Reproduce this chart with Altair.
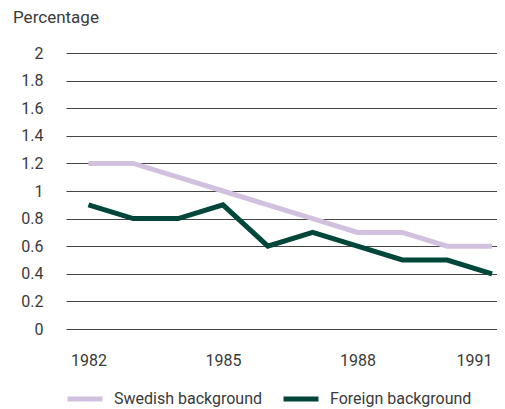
import altair as alt
import pandas as pd

years = [1982, 1983, 1984, 1985, 1986, 1987, 1988, 1989, 1990, 1991]
swedish = [1.2, 1.2, 1.1, 1.0, 0.9, 0.8, 0.7, 0.7, 0.6, 0.6]
foreign = [0.9, 0.8, 0.8, 0.9, 0.6, 0.7, 0.6, 0.5, 0.5, 0.4]
series_names = ["Swedish background", "Foreign background"]
series_colors = ["#d2c1de", "#00473a"]
y_ticks = [0, 0.2, 0.4, 0.6, 0.8, 1, 1.2, 1.4, 1.6, 1.8, 2]
x_ticks = [1982, 1985, 1988, 1991]

rows = []
for name, vals in zip(series_names, [swedish, foreign]):
    for yr, v in zip(years, vals):
        rows.append({"year": yr, "value": v, "series": name})
df = pd.DataFrame(rows)

FONT = "Roboto"
TXT = "#3a3a3a"

chart = (
    alt.Chart(df)
    .mark_line(strokeWidth=5, strokeJoin="miter")
    .encode(
        x=alt.X(
            "year:Q",
            scale=alt.Scale(domain=[1981.5, 1991.11], nice=False, zero=False),
            axis=alt.Axis(
                values=x_ticks, format="d", title=None, grid=False, domain=False,
                ticks=False, tickSize=0, labelPadding=23, labelFontSize=16,
                labelFont=FONT, labelColor=TXT,
                labelAlign={"condition": {"test": "datum.value == 1991", "value": "right"}, "value": "center"},
            ),
        ),
        y=alt.Y(
            "value:Q",
            scale=alt.Scale(domain=[0, 2], nice=False),
            axis=alt.Axis(
                values=y_ticks, format="~g", title=None, grid=True, gridColor="#444444",
                gridWidth=1, gridOpacity=1, domain=False, ticks=False, tickSize=0,
                labelPadding=23, labelFontSize=16, labelFont=FONT, labelColor=TXT,
            ),
        ),
        color=alt.Color(
            "series:N",
            scale=alt.Scale(domain=series_names, range=series_colors),
            sort=series_names,
            legend=alt.Legend(
                title=None, orient="none", legendX=-1, legendY=326, direction="horizontal",
                symbolType="stroke", symbolStrokeWidth=5, symbolSize=1225,
                labelFontSize=16, labelFont=FONT, labelColor=TXT, labelOffset=9,
                columnPadding=10,
            ),
        ),
        order="year:Q",
    )
    .properties(
        width=431,
        height=276,
        autosize=alt.AutoSizeParams(type="none"),
        padding={"left": 58, "top": 45, "right": 0, "bottom": 80},
        title=alt.TitleParams(
            "Percentage", anchor="start", frame="group", dx=-53, fontSize=17,
            fontWeight="normal", font=FONT, color=TXT, offset=18,
        ),
    )
    .configure_view(stroke=None)
)

chart.save("out.html", embed_options={"renderer": "svg", "actions": False})
